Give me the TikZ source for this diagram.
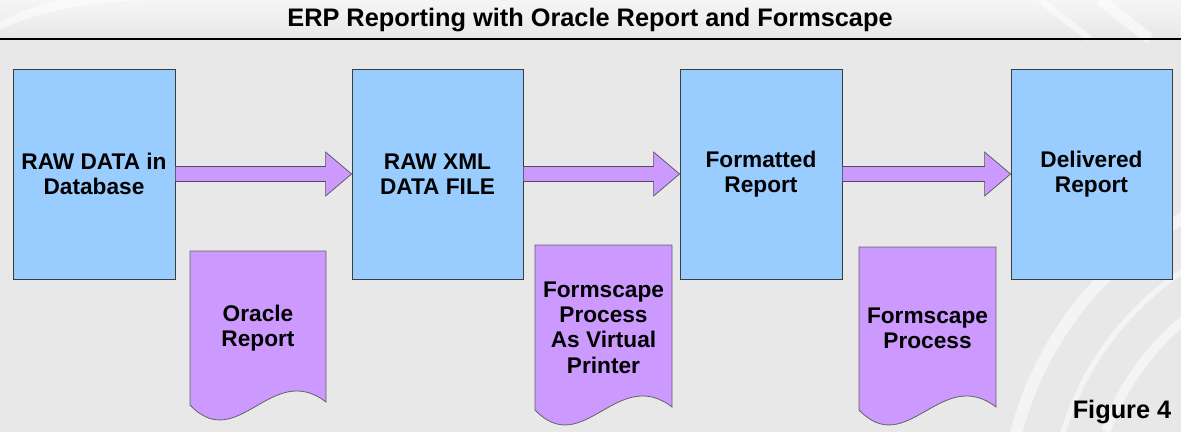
\documentclass[tikz,border=0pt]{standalone}
\usepackage{fontspec}
\setmainfont{Liberation Sans}
\usepackage{tikz}
\definecolor{stageblue}{HTML}{99CCFF}
\definecolor{toolviolet}{HTML}{CC99FF}
\definecolor{edgegray}{HTML}{3C3C3C}
\definecolor{backgray}{HTML}{E8E8E8}
\usetikzlibrary{%
    calc,
    positioning,
}
\tikzset{%
    base/.style = {
        align=center,
        font=\bfseries\fontsize{17}{19}\selectfont,
        line width=0.6pt,
        inner sep=0pt,
    },
    stage/.style = {
        base,
        rectangle,
        draw=edgegray,
        fill=stageblue,
        minimum height=157.5pt,
    },
    tool/.style = {
        fill=toolviolet,
        draw=edgegray!80,
        line width=0.6pt,
    },
    tooltext/.style = {
        base,
    },
    flow/.style = {
        fill=toolviolet,
        draw=edgegray!90,
        line width=0.5pt,
    },
    heading/.style = {
        font=\bfseries\fontsize{19}{21}\selectfont,
    },
    swoosh/.style = {
        white,
        opacity=0.55,
    },
}
\newcommand\flowarrow[2]{%
    \filldraw[flow] ($(#1.east)+(0,7.5)$) -- ($(#2.west)+(-26,7.5)$)
        -- ($(#2.west)+(-26,22)$) -- (#2.west) -- ($(#2.west)+(-26,-22)$)
        -- ($(#2.west)+(-26,-7.5)$) -- ($(#1.east)+(0,-7.5)$) -- cycle;
}
\newcommand\toolnode[6]{%
    \filldraw[tool] (#2,#3) -- (#4,#3) -- (#4,#5-3)
        .. controls ({#2+0.6*(#4-#2)},#5-45) and ({#2+0.35*(#4-#2)},#5+50) .. (#2,#5) -- cycle;
    \node[tooltext] (#1) at ({(#2+#4)/2},{(#3+#5)/2}) {#6};
}

\begin{document}
\begin{tikzpicture}[x=0.75pt, y=-0.75pt]
    \useasboundingbox (0,0) rectangle (1181,432);
    \begin{scope}
        \clip (0,0) rectangle (1181,432);
        \fill[backgray] (0,0) rectangle (1181,432);
        \shade[top color=white, bottom color=backgray, opacity=0.6] (0,0) rectangle (1181,39);
        \fill[swoosh] (0,30) .. controls (40,10) and (90,2) .. (150,0) -- (60,0) .. controls (30,8) .. (0,22) -- cycle;
        \draw[swoosh, line width=7pt] (1350,520) ++(200:260) arc[start angle=200, end angle=250, radius=260];
        \draw[swoosh, line width=4pt] (1350,520) ++(195:300) arc[start angle=195, end angle=250, radius=300];
        \draw[swoosh, line width=9pt] (1350,520) ++(190:345) arc[start angle=190, end angle=250, radius=345];
        \draw[swoosh, line width=5pt] (1040,0) -- (1090,39);
        \draw[swoosh, line width=8pt] (1100,0) -- (1150,39);
    \end{scope}
    \node[heading] (title) at (590,20) {ERP Reporting with Oracle Report and Formscape};
    \draw[line width=1.6pt] (0,39) -- (1181,39);

    \node[stage, minimum width=121.5pt] (rawdata) at (94,174) {RAW DATA in\\Database};
    \node[stage, minimum width=128.25pt] (rawxml) at (437.5,174) {RAW XML\\DATA FILE};
    \node[stage, minimum width=121.5pt] (formatted) at (761,174) {Formatted\\Report};
    \node[stage, minimum width=120.75pt] (delivered) at (1091.5,174) {Delivered\\Report};

    \flowarrow{rawdata}{rawxml}
    \flowarrow{rawxml}{formatted}
    \flowarrow{formatted}{delivered}

    \toolnode{oracle}{190}{251}{326}{405}{Oracle\\Report}
    \toolnode{virtual}{535}{245}{672}{410}{Formscape\\Process\\As Virtual\\Printer}
    \toolnode{process}{859}{247}{996}{410}{Formscape\\Process}

    \node[heading, anchor=base east] (figlabel) at (1176,418) {Figure 4};
\end{tikzpicture}
\end{document}
